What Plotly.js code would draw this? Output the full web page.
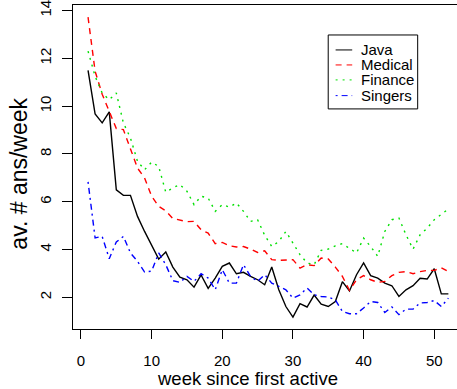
<!DOCTYPE html>
<html>
<head>
<meta charset="utf-8">
<script src="https://cdn.plot.ly/plotly-3.0.1.min.js"></script>
<style>
html,body{margin:0;padding:0;background:#fff;overflow:hidden;}
#chart{width:457px;height:389px;}
</style>
</head>
<body>
<div id="chart"></div>
<script>
// ---- data ----
var weeks = [];
for (var i = 1; i <= 52; i++) weeks.push(i);

var seriesNames = ["Java", "Medical", "Finance", "Singers"];

var java = [11.5, 9.67, 9.3, 9.76, 6.5, 6.27, 6.27, 5.39, 4.76, 4.2,
            3.6, 3.9, 3.27, 2.85, 2.74, 2.43, 2.94, 2.38, 2.81, 3.3,
            3.44, 2.99, 3.05, 2.88, 2.74, 2.53, 3.27, 2.32, 1.62, 1.18,
            1.74, 1.6, 2.1, 1.72, 1.62, 1.83, 2.66, 2.27, 2.95, 3.44,
            2.91, 2.81, 2.6, 2.49, 2.04, 2.32, 2.49, 2.8, 2.77, 3.2,
            2.15, 2.15];

var medical = [13.72, 11.46, 10.5, 9.8, 9.06, 9.02, 8.25, 7.41, 7.0, 6.23,
               5.81, 5.62, 5.3, 5.22, 5.17, 5.18, 4.83, 4.69, 4.25, 4.3,
               4.16, 4.11, 4.13, 4.02, 3.88, 3.95, 3.58, 3.55, 3.55, 3.58,
               3.23, 3.37, 3.33, 3.65, 3.61, 3.27, 2.88, 2.3, 2.74, 2.91,
               2.74, 2.63, 2.67, 2.91, 3.05, 3.08, 2.99, 3.08, 3.13, 3.13,
               3.24, 3.08];

var finance = [12.3, 11.25, 10.55, 10.27, 10.55, 9.3, 8.67, 7.69, 7.34, 7.66,
               7.48, 6.4, 6.58, 6.72, 6.44, 5.88, 6.23, 6.16, 5.6, 5.88,
               5.78, 5.95, 5.6, 5.18, 5.25, 4.6, 4.13, 4.34, 4.76, 4.28,
               3.79, 3.44, 3.37, 3.97, 4.02, 4.16, 4.25, 4.05, 3.86, 4.48,
               4.13, 3.72, 4.76, 5.25, 5.32, 4.62, 4.02, 4.62, 4.9, 5.25,
               5.46, 5.7];

var singers = [6.83, 4.49, 4.55, 3.62, 4.32, 4.55, 3.86, 3.51, 3.06, 3.1,
               3.86, 3.37, 2.7, 2.63, 2.88, 2.67, 2.99, 2.81, 2.32, 3.16,
               2.6, 2.6, 3.37, 2.88, 2.67, 2.95, 2.6, 2.46, 2.32, 1.97,
               2.11, 2.39, 2.11, 2.04, 2.02, 1.9, 1.41, 1.32, 1.32, 1.56,
               1.83, 1.79, 1.37, 1.6, 1.28, 1.51, 1.51, 1.77, 1.79, 1.87,
               1.62, 1.97];

var xTicks = [0, 10, 20, 30, 40, 50];
var yTicks = [2, 4, 6, 8, 10, 12, 14];
var xLabel = "week since first active";
var yLabel = "av. # ans/week";

// ---- styles ----
var colors = ["#000000", "#ff0000", "#00e000", "#0000ff"];
var dashes = ["solid", "6px,5px", "2px,5px", "2px,4px,6px,4px"];
var values = [java, medical, finance, singers];

var traces = values.map(function (v, k) {
  return {
    x: weeks, y: v, type: "scatter", mode: "lines", name: seriesNames[k],
    line: {color: colors[k], width: 1.4, dash: dashes[k]},
    showlegend: false, hoverinfo: "skip"
  };
});

// legend drawn in paper coordinates
var legX0 = 0.6646, legX1 = 0.8976, legY0 = 0.6793, legY1 = 0.9075;
var legEntryY = [0.8613, 0.8150, 0.7688, 0.7203];
var shapes = [{
  type: "rect", xref: "paper", yref: "paper",
  x0: legX0, x1: legX1, y0: legY0, y1: legY1,
  line: {color: "#000", width: 1}, fillcolor: "rgba(0,0,0,0)"
}];
var annotations = [];
seriesNames.forEach(function (n, k) {
  shapes.push({
    type: "line", xref: "paper", yref: "paper",
    x0: 0.6839, x1: 0.7271, y0: legEntryY[k], y1: legEntryY[k],
    line: {color: colors[k], width: 1, dash: dashes[k]}
  });
  annotations.push({
    xref: "paper", yref: "paper", x: 0.7446, y: legEntryY[k],
    xanchor: "left", yanchor: "middle", showarrow: false, text: n,
    font: {size: 15, color: "#000"}
  });
});
annotations.push({
  xref: "paper", yref: "paper", x: 0.454, y: -0.152,
  xanchor: "center", yanchor: "middle", showarrow: false, text: xLabel,
  font: {size: 18.5, color: "#000"}
});
annotations.push({
  xref: "paper", yref: "paper", x: -0.141, y: 0.479,
  xanchor: "center", yanchor: "middle", showarrow: false, text: yLabel,
  textangle: -90, font: {size: 23, color: "#000"}
});

var layout = {
  width: 457, height: 389,
  margin: {l: 73.3, r: 0, t: 5, b: 59.7, pad: 0},
  paper_bgcolor: "#fff", plot_bgcolor: "#fff",
  font: {family: "Liberation Sans, Arial, Helvetica, sans-serif", color: "#000"},
  showlegend: false,
  xaxis: {
    range: [-1.13, 53.22], tickmode: "array", tickvals: xTicks,
    ticks: "outside", ticklen: 9, tickwidth: 1, tickcolor: "#000",
    showline: true, mirror: true, linecolor: "#000", linewidth: 1,
    showgrid: false, zeroline: false,
    tickfont: {size: 15}, ticklabelstandoff: 9, ticklabeloverflow: "allow"
  },
  yaxis: {
    range: [0.68, 14.23], tickmode: "array", tickvals: yTicks,
    ticks: "outside", ticklen: 10, tickwidth: 1, tickcolor: "#000",
    showline: true, mirror: false, linecolor: "#000", linewidth: 1,
    showgrid: false, zeroline: false, tickangle: -90,
    tickfont: {size: 15}, ticklabelstandoff: 5, ticklabeloverflow: "allow"
  },
  shapes: shapes,
  annotations: annotations
};

Plotly.newPlot("chart", traces, layout, {staticPlot: true, displayModeBar: false});
</script>
</body>
</html>
